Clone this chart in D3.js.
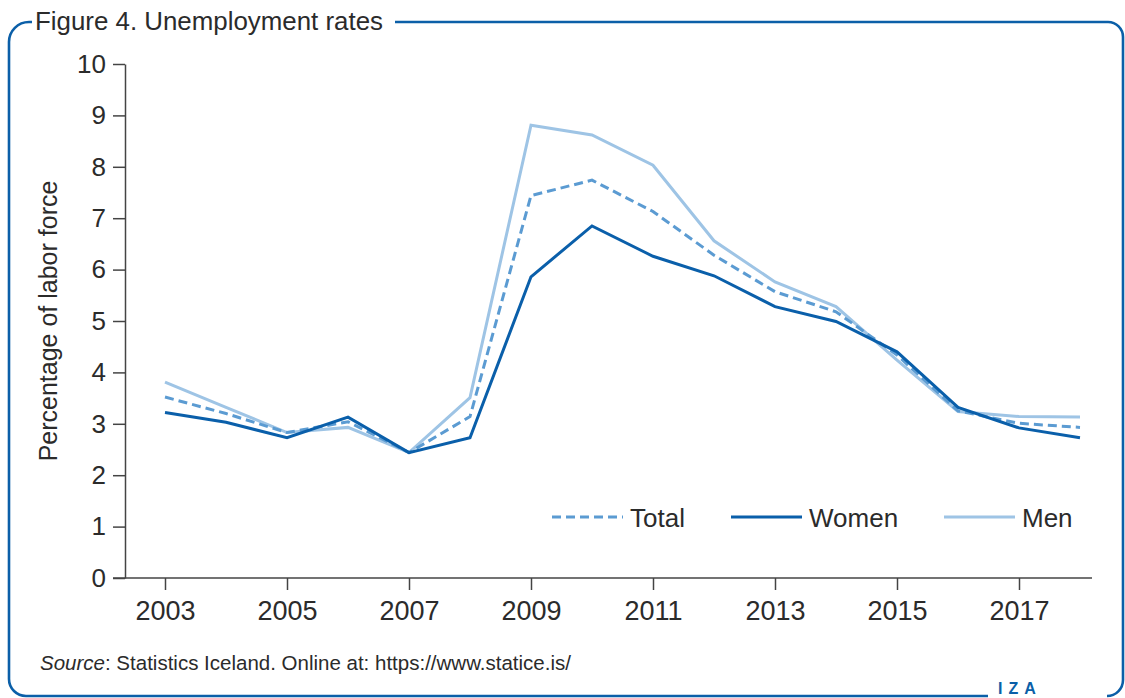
<!DOCTYPE html>
<html><head><meta charset="utf-8">
<script src="https://cdn.jsdelivr.net/npm/d3@7"></script>
<style>
html,body{margin:0;padding:0;background:#fff;}
svg{display:block;font-family:"Liberation Sans",Arial,sans-serif;}
</style></head>
<body>
<svg id="chart" width="1125" height="698"></svg>
<script>
const years = [2003,2004,2005,2006,2007,2008,2009,2010,2011,2012,2013,2014,2015,2016,2017,2018];
const total = [3.52,3.20,2.83,3.04,2.44,3.14,7.44,7.74,7.13,6.28,5.57,5.18,4.34,3.25,3.01,2.93];
const women = [3.22,3.03,2.73,3.13,2.44,2.73,5.86,6.85,6.26,5.88,5.28,4.99,4.40,3.32,2.92,2.73];
const men   = [3.81,3.32,2.83,2.93,2.44,3.51,8.81,8.62,8.03,6.56,5.76,5.28,4.24,3.24,3.14,3.13];
const yTicks = [0,1,2,3,4,5,6,7,8,9,10];
const xTicks = [2003,2005,2007,2009,2011,2013,2015,2017];
const seriesNames = ["Total","Women","Men"];

const svg = d3.select("#chart");
const frameColor = "#0b5fa8";
const textColor = "#2b2b2b";
const axisColor = "#444";

// frame
svg.append("path")
  .attr("d","M395,22 L1108,22 A15,15 0 0 1 1123,37 L1123,680 A16,16 0 0 1 1107,696")
  .attr("fill","none").attr("stroke",frameColor).attr("stroke-width",2.6);
svg.append("path")
  .attr("d","M988,696 L26,696 A17,17 0 0 1 9,679 L9,42 A20,20 0 0 1 29,22 L32,22")
  .attr("fill","none").attr("stroke",frameColor).attr("stroke-width",2.6);

svg.append("text").attr("x",35).attr("y",30)
  .attr("font-size",26).attr("fill",textColor)
  .attr("textLength",348).attr("lengthAdjust","spacingAndGlyphs")
  .text("Figure 4. Unemployment rates");

const x = d3.scaleLinear().domain([2003,2018]).range([165,1080]);
const y = d3.scaleLinear().domain([0,10]).range([578,64]);

// y axis
const yAxis = svg.append("g").attr("transform","translate(125,0)")
  .call(d3.axisLeft(y).tickValues(yTicks).tickSize(12).tickSizeOuter(0).tickPadding(7));
yAxis.select(".domain").attr("stroke",axisColor).attr("stroke-width",1.5);
yAxis.selectAll(".tick line").attr("stroke",axisColor).attr("stroke-width",1.5);
yAxis.selectAll(".tick text").attr("font-size",26).attr("fill",textColor)
  .attr("font-family","Liberation Sans,Arial,sans-serif");

// x axis
const xAxis = svg.append("g").attr("transform","translate(0,578)")
  .call(d3.axisBottom(x).tickValues(xTicks).tickFormat(d3.format("d")).tickSize(12).tickSizeOuter(0).tickPadding(11));
xAxis.select(".domain").remove();
xAxis.append("line").attr("x1",113).attr("x2",1092).attr("y1",0).attr("y2",0)
  .attr("stroke",axisColor).attr("stroke-width",1.5);
xAxis.selectAll(".tick line").attr("stroke",axisColor).attr("stroke-width",1.5);
xAxis.selectAll(".tick text").attr("font-size",27).attr("fill",textColor)
  .attr("font-family","Liberation Sans,Arial,sans-serif");

// y title
svg.append("text").attr("transform","translate(57,321) rotate(-90)")
  .attr("text-anchor","middle").attr("font-size",25).attr("fill",textColor)
  .text("Percentage of labor force");

const styles = {
  Total:{color:"#5b9bd2",dash:"9,5"},
  Women:{color:"#0a5faa",dash:null},
  Men:{color:"#9ec4e5",dash:null}
};
const data = {Total:total,Women:women,Men:men};
const line = d3.line().x(d=>x(d[0])).y(d=>y(d[1]));

["Men","Total","Women"].forEach(name=>{
  const pts = years.map((yr,i)=>[yr,data[name][i]]);
  svg.append("path").datum(pts).attr("d",line)
    .attr("fill","none").attr("stroke",styles[name].color)
    .attr("stroke-width",3).attr("stroke-linejoin","miter")
    .attr("stroke-dasharray",styles[name].dash);
});

// legend
const legendX = [552,731,944];
seriesNames.forEach((name,i)=>{
  const g = svg.append("g").attr("transform",`translate(${legendX[i]},517)`);
  g.append("line").attr("x1",0).attr("x2",71).attr("y1",0).attr("y2",0)
    .attr("stroke",styles[name].color).attr("stroke-width",3)
    .attr("stroke-dasharray",styles[name].dash);
  g.append("text").attr("x",78).attr("y",10).attr("font-size",26)
    .attr("fill",textColor).text(name);
});

// source
const src = svg.append("text").attr("x",40).attr("y",670).attr("font-size",20.5).attr("fill",textColor);
src.append("tspan").attr("font-style","italic").text("Source");
src.append("tspan").text(": Statistics Iceland. Online at: https://www.statice.is/");

// IZA logo
svg.append("text").attr("x",998).attr("y",694).attr("font-size",16).attr("font-weight","bold")
  .attr("letter-spacing",6).attr("fill",frameColor).text("IZA");
</script>
</body></html>
